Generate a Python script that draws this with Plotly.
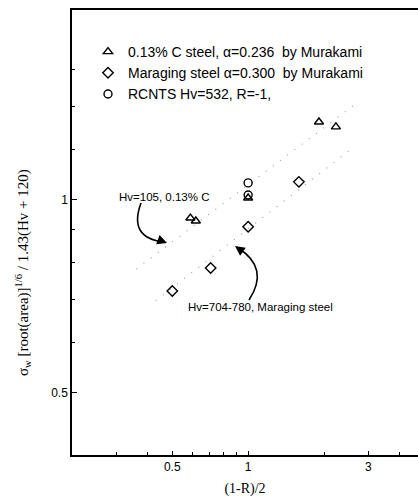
import numpy as np
import plotly.graph_objects as go

# ---- data -------------------------------------------------------------
# 0.13% C steel (Murakami)
c_steel_x = [0.59, 0.62, 1.0, 1.91, 2.23]
c_steel_y = [0.937, 0.927, 1.007, 1.323, 1.300]

# Maraging steel (Murakami)
maraging_x = [0.50, 0.71, 1.0, 1.59]
maraging_y = [0.721, 0.783, 0.908, 1.067]

# RCNTS, Hv=532, R=-1
rcnts_x = [1.0, 1.0]
rcnts_y = [1.063, 1.018]

# fitted trend lines: y = coef * x**alpha over [x_start, x_end]
fit_upper = dict(coef=1.056, alpha=0.296, x_start=0.36, x_end=2.73)
fit_lower = dict(coef=0.901, alpha=0.305, x_start=0.43, x_end=2.63)

x_ticks = [0.5, 1, 3]
x_minor = [0.3, 0.4, 0.6, 0.7, 0.8, 0.9, 2, 4]
y_ticks = [0.5, 1]
y_minor = [0.6, 0.7, 0.8, 0.9, 1.2, 1.4, 1.6]

# ---- figure -----------------------------------------------------------
W, H = 418, 502
L, R, T, B = 72, 0, 10, 47
plot_w, plot_h = W - L - R, H - T - B
x_lo = np.log10(0.2)
x_hi = x_lo + plot_w / 252.0
y_lo = np.log10(0.4)
y_hi = y_lo + plot_h / 641.0

sans = "Liberation Sans, Arial, sans-serif"
serif = "Liberation Serif, Times New Roman, serif"

fig = go.Figure()

for fit in (fit_upper, fit_lower):
    xs = np.array([fit["x_start"], fit["x_end"]])
    ys = fit["coef"] * xs ** fit["alpha"]
    fig.add_trace(go.Scatter(
        x=xs, y=ys, mode="lines", showlegend=False, hoverinfo="skip",
        line=dict(color="#9a9a9a", width=1.1, dash="1px,8px"),
    ))

mk_line = dict(color="black", width=1.4)
fig.add_trace(go.Scatter(
    x=c_steel_x, y=c_steel_y, mode="markers", legendgroup="a",
    name="0.13% C steel, α=0.236  by Murakami",
    marker=dict(symbol="triangle-up-open", size=8, color="black", line=mk_line),
))
fig.add_trace(go.Scatter(
    x=maraging_x, y=maraging_y, mode="markers", legendgroup="b",
    name="Maraging steel α=0.300  by Murakami",
    marker=dict(symbol="diamond-open", size=8, color="black", line=mk_line),
))
fig.add_trace(go.Scatter(
    x=rcnts_x, y=rcnts_y, mode="markers", legendgroup="c",
    name="RCNTS Hv=532, R=-1,",
    marker=dict(symbol="circle-open", size=8, color="black", line=mk_line),
))


def px(xp, yp):
    """pixel position -> paper coordinates"""
    return (xp - L) / plot_w, (H - B - yp) / plot_h


def curve(p0, c, p1):
    a, b, d = px(*p0), px(*c), px(*p1)
    return f"M {a[0]},{a[1]} Q {b[0]},{b[1]} {d[0]},{d[1]}"


shapes = [
    dict(type="path", xref="paper", yref="paper",
         path=curve((141, 203), (128, 238), (164, 242)),
         line=dict(color="black", width=1.6)),
    dict(type="path", xref="paper", yref="paper",
         path=curve((249, 300), (270, 268), (238, 248)),
         line=dict(color="black", width=1.6)),
]

annotations = [
    dict(text="Hv=105, 0.13% C", xref="paper", yref="paper",
         x=px(117, 197)[0], y=px(117, 197)[1], xanchor="left", yanchor="middle",
         showarrow=False, font=dict(family=sans, size=11.5, color="black")),
    dict(text="Hv=704-780, Maraging steel", xref="paper", yref="paper",
         x=px(186, 307)[0], y=px(186, 307)[1], xanchor="left", yanchor="middle",
         showarrow=False, font=dict(family=sans, size=11.5, color="black")),
    # arrow heads at the ends of the curved leaders
    dict(text="", xref="paper", yref="paper", axref="pixel", ayref="pixel",
         x=px(167, 243)[0], y=px(167, 243)[1], ax=-8, ay=-3,
         showarrow=True, arrowhead=2, arrowsize=1.3, arrowwidth=1.5, arrowcolor="black"),
    dict(text="", xref="paper", yref="paper", axref="pixel", ayref="pixel",
         x=px(235, 246)[0], y=px(235, 246)[1], ax=7, ay=5,
         showarrow=True, arrowhead=2, arrowsize=1.3, arrowwidth=1.5, arrowcolor="black"),
    # y-axis title
    dict(text="σ<sub>w</sub> [root(area)]<sup>1/6</sup> / 1.43(Hv + 120)",
         xref="paper", yref="paper", x=px(23, 273)[0], y=px(23, 273)[1],
         xanchor="center", yanchor="middle", textangle=-90, showarrow=False,
         font=dict(family=serif, size=15, color="black")),
]

fig.update_layout(
    width=W, height=H,
    margin=dict(l=L, r=R, t=T, b=B),
    paper_bgcolor="white", plot_bgcolor="white",
    font=dict(family=sans, size=11, color="black"),
    shapes=shapes, annotations=annotations,
    legend=dict(
        x=px(88, 36)[0], y=px(88, 36)[1], xanchor="left", yanchor="top",
        bgcolor="rgba(0,0,0,0)", borderwidth=0,
        font=dict(family=sans, size=14, color="black"),
        tracegroupgap=0, itemwidth=30,
    ),
    xaxis=dict(
        type="log", range=[x_lo, x_hi],
        tickmode="array", tickvals=x_ticks, ticktext=[str(v) for v in x_ticks],
        ticks="inside", ticklen=4, tickwidth=1, tickcolor="black",
        minor=dict(tickmode="array", tickvals=x_minor, ticks="inside", ticklen=3,
                   tickcolor="black", showgrid=False),
        showline=True, linecolor="black", linewidth=1.5, mirror=True,
        showgrid=False, zeroline=False,
        tickfont=dict(family=sans, size=12, color="black"),
        title=dict(text="(1-R)/2", font=dict(family=serif, size=14, color="black"),
                   standoff=10),
    ),
    yaxis=dict(
        type="log", range=[y_lo, y_hi],
        tickmode="array", tickvals=y_ticks, ticktext=[str(v) for v in y_ticks],
        ticks="inside", ticklen=5, tickwidth=1, tickcolor="black",
        minor=dict(tickmode="array", tickvals=y_minor, ticks="inside", ticklen=3,
                   tickcolor="black", showgrid=False),
        showline=True, linecolor="black", linewidth=1.5, mirror=False,
        showgrid=False, zeroline=False,
        tickfont=dict(family=sans, size=12, color="black"),
    ),
)

fig.write_html("out.html", config={"displayModeBar": False})
